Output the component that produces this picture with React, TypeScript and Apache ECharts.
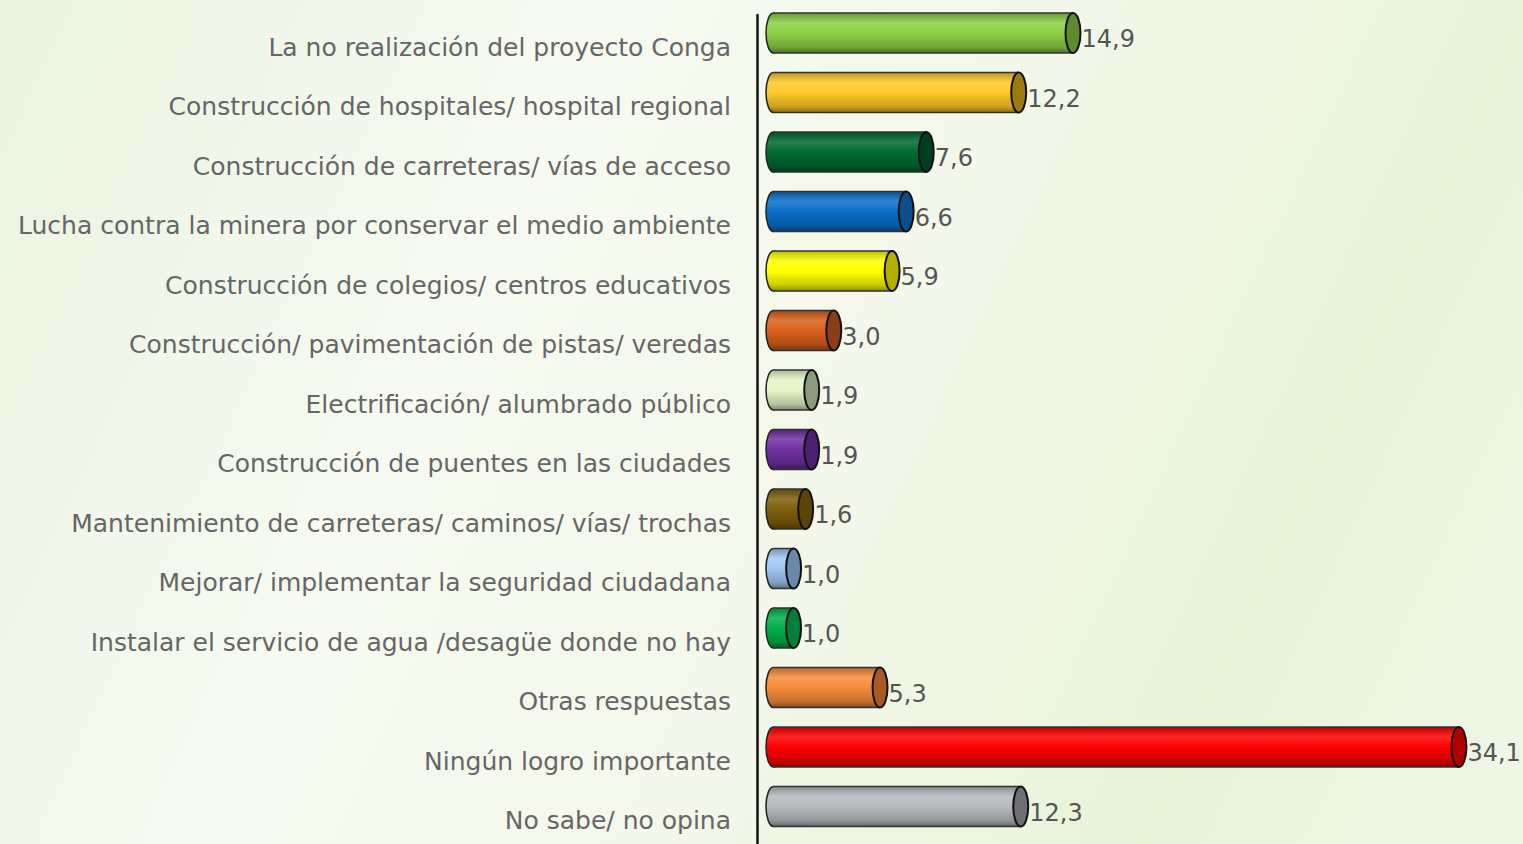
import React, { useEffect, useRef } from "react";
import * as echarts from "echarts";

const categories = [
  "La no realización del proyecto Conga",
  "Construcción de hospitales/ hospital regional",
  "Construcción de carreteras/ vías de acceso",
  "Lucha contra la minera por conservar el medio ambiente",
  "Construcción de colegios/ centros educativos",
  "Construcción/ pavimentación de pistas/ veredas",
  "Electrificación/ alumbrado público",
  "Construcción de puentes en las ciudades",
  "Mantenimiento de carreteras/ caminos/ vías/ trochas",
  "Mejorar/ implementar la seguridad ciudadana",
  "Instalar el servicio de agua /desagüe donde no hay",
  "Otras respuestas",
  "Ningún logro importante",
  "No sabe/ no opina",
];

const values = [14.9, 12.2, 7.6, 6.6, 5.9, 3.0, 1.9, 1.9, 1.6, 1.0, 1.0, 5.3, 34.1, 12.3];

const barColors = [
  "#8cd145", "#ffc929", "#006a30", "#0a6fc9", "#ffff00", "#d9601a", "#e4f5c6",
  "#7030a0", "#7f5f0a", "#a0c8f0", "#00b04a", "#f68b3a", "#ff0000", "#b8babf",
];

const capColors = [
  "#5e8a30", "#9c7a14", "#004020", "#0a4f8a", "#b0b000", "#8a3e12", "#8a9a7a",
  "#4a2070", "#5a4408", "#6a88aa", "#00803a", "#a85a22", "#b00000", "#6e7075",
];

function mix(hex: string, target: string, t: number): string {
  const p = (h: string) => [1, 3, 5].map((i) => parseInt(h.slice(i, i + 2), 16));
  const a = p(hex);
  const b = p(target);
  const c = a.map((v, i) => Math.round(v + (b[i] - v) * t));
  return "#" + c.map((v) => v.toString(16).padStart(2, "0")).join("");
}

export default function App() {
  const ref = useRef<HTMLDivElement>(null);

  useEffect(() => {
    if (!ref.current) return;
    const chart = echarts.init(ref.current, undefined, { renderer: "svg" });
    const data = values.map((v, i) => [v, i]);

    chart.setOption({
      animation: false,
      backgroundColor: "transparent",
      grid: [
        { left: 773.5, right: 25.9, top: 3.25, bottom: 7.75 },
        { left: 757, top: 15, bottom: 0, width: 1 },
      ],
      xAxis: [
        { type: "value", gridIndex: 0, min: 0, max: 36, show: false },
        { type: "value", gridIndex: 1, show: false },
      ],
      yAxis: [
        {
          type: "category",
          gridIndex: 0,
          data: categories,
          inverse: true,
          axisLine: { show: false },
          axisTick: { show: false },
          splitLine: { show: false },
          axisLabel: {
            margin: 42.5,
            color: "#666666",
            fontSize: 25,
            fontFamily: "DejaVu Sans",
            verticalAlign: "top",
            lineHeight: 28,
          },
        },
        {
          type: "value",
          gridIndex: 1,
          axisLine: { show: true, lineStyle: { color: "#111", width: 2.5 } },
          axisTick: { show: false },
          axisLabel: { show: false },
          splitLine: { show: false },
        },
      ],
      series: [
        {
          type: "custom",
          xAxisIndex: 0,
          yAxisIndex: 0,
          encode: { x: 0, y: 1 },
          data,
          renderItem: (params: any, api: any) => {
            const v = api.value(0);
            const idx = api.value(1);
            const p0 = api.coord([0, idx]);
            const p1 = api.coord([v, idx]);
            const band = api.size([0, 1])[1];
            const h = band * 0.672;
            const ry = h / 2;
            const rx = 7.5;
            const cy = p0[1];
            const c = barColors[params.dataIndex];
            const cap = capColors[params.dataIndex];
            const grad = new echarts.graphic.LinearGradient(0, 0, 0, 1, [
              { offset: 0, color: mix(c, "#000000", 0.25) },
              { offset: 0.25, color: mix(c, "#ffffff", 0.15) },
              { offset: 0.5, color: c },
              { offset: 0.85, color: mix(c, "#000000", 0.2) },
              { offset: 1, color: mix(c, "#000000", 0.45) },
            ]);
            const text = v.toFixed(1).replace(".", ",");
            return {
              type: "group",
              children: [
                {
                  type: "ellipse",
                  shape: { cx: p0[0], cy, rx, ry },
                  style: { fill: grad, stroke: "#222", lineWidth: 1.5 },
                },
                {
                  type: "rect",
                  shape: { x: p0[0], y: cy - ry, width: p1[0] - p0[0], height: h },
                  style: { fill: grad },
                },
                {
                  type: "line",
                  shape: { x1: p0[0], y1: cy - ry, x2: p1[0], y2: cy - ry },
                  style: { stroke: "#333", lineWidth: 1.5 },
                },
                {
                  type: "line",
                  shape: { x1: p0[0], y1: cy + ry, x2: p1[0], y2: cy + ry },
                  style: { stroke: "#333", lineWidth: 1.5 },
                },
                {
                  type: "ellipse",
                  shape: { cx: p1[0], cy, rx, ry },
                  style: { fill: cap, stroke: "#111", lineWidth: 2 },
                },
                {
                  type: "text",
                  x: p1[0] + rx + 1,
                  y: cy + 6,
                  style: {
                    text,
                    fill: "#555555",
                    font: '24px "DejaVu Sans"',
                    align: "left",
                    verticalAlign: "middle",
                    textAlign: "left",
                    textVerticalAlign: "middle",
                  },
                },
              ],
            };
          },
        },
      ],
    });

    return () => chart.dispose();
  }, []);

  return (
    <div
      style={{
        position: "absolute",
        left: 0,
        top: 0,
        width: 1523,
        height: 844,
        background:
          "linear-gradient(115deg, #eaf3e0 0%, #f6faf0 30%, #f3f8ea 55%, #e8f3da 80%, #eef7e6 100%)",
      }}
    >
      <div ref={ref} style={{ width: 1523, height: 844 }} />
    </div>
  );
}
